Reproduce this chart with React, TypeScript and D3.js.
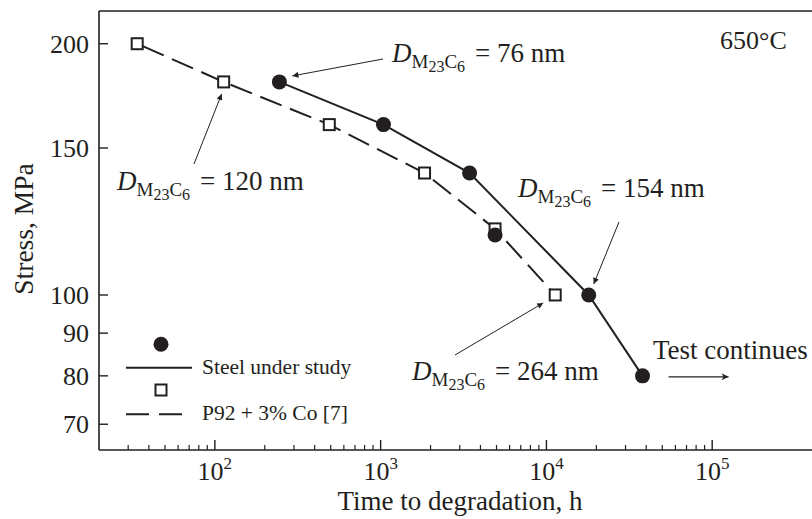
import React from "react";
import * as d3 from "d3";

const steelTime = [245, 1040, 3440, 4900, 18000, 38000];
const steelStress = [180, 160, 140, 118, 100, 80];
const steelLineTime = [245, 1040, 3440, 18000, 38000];
const steelLineStress = [180, 160, 140, 100, 80];
const p92Time = [34, 113, 490, 1840, 4900, 11300];
const p92Stress = [200, 180, 160, 140, 120, 100];
const yTicks = [200, 150, 100, 90, 80, 70];
const xMajor = [100, 1000, 10000, 100000];
const xMinorMult = [2, 3, 4, 5, 6, 7, 8, 9];

const W = 812;
const H = 519;
const INK = "#231f20";
const FONT = "'Liberation Serif', 'Times New Roman', serif";

function DLabel({ x, y, value }: { x: number; y: number; value: string }) {
  return (
    <text x={x} y={y} fontSize={27} fill={INK} fontFamily={FONT}>
      <tspan fontStyle="italic">D</tspan>
      <tspan fontSize={19} dy={6}>M</tspan>
      <tspan fontSize={16} dy={4}>23</tspan>
      <tspan fontSize={19} dy={-4}>C</tspan>
      <tspan fontSize={16} dy={4}>6</tspan>
      <tspan fontSize={27} dy={-10} dx={10}>= {value} nm</tspan>
    </text>
  );
}

export default function App() {
  const x = d3.scaleLog().domain([20, 4e5]).range([99, 812]);
  const y = d3.scaleLog().domain([65.2, 218.9]).range([450, 11]);
  const x0 = 99, x1 = 812, yB = 450, yT = 11;

  const line = d3
    .line<[number, number]>()
    .x((d) => x(d[0]))
    .y((d) => y(d[1]));

  const steelPath = line(steelLineTime.map((t, i) => [t, steelLineStress[i]]));
  const p92Path = line(p92Time.map((t, i) => [t, p92Stress[i]]));

  const minorTicks: number[] = [];
  [10, 100, 1000, 10000].forEach((dec) =>
    xMinorMult.forEach((m) => {
      const v = dec * m;
      if (v > 20 && v < 1e5) minorTicks.push(v);
    })
  );

  const sq = 11;
  const a1 = { px: x(steelTime[0]) + 13, py: y(steelStress[0]) - 6 };
  const a2 = { px: x(p92Time[1]) - 2, py: y(p92Stress[1]) + 12 };
  const a3 = { px: x(steelTime[4]) + 5, py: y(steelStress[4]) - 11 };
  const a4 = { px: x(p92Time[5]) - 12, py: y(p92Stress[5]) + 8 };
  const tc = { px: x(steelTime[5]), py: y(steelStress[5]) };

  return (
    <svg width={W} height={H} style={{ position: "absolute", left: 0, top: 0, background: "#fff" }}>
      <defs>
        <marker id="ah" viewBox="0 0 10 10" refX="10" refY="5" markerWidth="9" markerHeight="6" markerUnits="userSpaceOnUse" orient="auto">
          <path d="M0,0 L10,5 L0,10 z" fill={INK} />
        </marker>
        <marker id="ah2" viewBox="0 0 10 10" refX="10" refY="5" markerWidth="12" markerHeight="7" markerUnits="userSpaceOnUse" orient="auto">
          <path d="M0,0 L10,5 L0,10 L3,5 z" fill={INK} />
        </marker>
      </defs>
      <rect x={0} y={0} width={W} height={H} fill="#fff" />
      <line x1={x0} x2={x1} y1={yT} y2={yT} stroke={INK} strokeWidth={1.6} />
      <line x1={x0} x2={x1} y1={yB} y2={yB} stroke={INK} strokeWidth={1.6} />
      <line x1={x0} x2={x0} y1={yT} y2={yB} stroke={INK} strokeWidth={1.6} />

      {yTicks.map((v) => (
        <g key={"y" + v}>
          <line x1={x0} x2={x0 + 9} y1={y(v)} y2={y(v)} stroke={INK} strokeWidth={1.4} />
          <text x={89} y={y(v)} dy="0.34em" textAnchor="end" fontSize={26} fill={INK} fontFamily={FONT}>
            {v}
          </text>
        </g>
      ))}

      {xMajor.map((v) => (
        <g key={"x" + v}>
          <line x1={x(v)} x2={x(v)} y1={yB} y2={yB - 10} stroke={INK} strokeWidth={1.4} />
          <text x={x(v)} y={480} textAnchor="middle" fontSize={26} fill={INK} fontFamily={FONT}>
            10<tspan fontSize={17} dy={-11}>{Math.round(Math.log10(v))}</tspan>
          </text>
        </g>
      ))}
      {minorTicks.map((v) => (
        <line key={"m" + v} x1={x(v)} x2={x(v)} y1={yB} y2={yB - 5} stroke={INK} strokeWidth={1.2} />
      ))}

      <text x={460} y={510} textAnchor="middle" fontSize={27} fill={INK} fontFamily={FONT}>
        Time to degradation, h
      </text>
      <text transform="translate(33,229) rotate(-90)" textAnchor="middle" fontSize={27.5} fill={INK} fontFamily={FONT}>
        Stress, MPa
      </text>

      <path d={p92Path || ""} fill="none" stroke={INK} strokeWidth={2} strokeDasharray="23,9" strokeDashoffset={-6} />
      <path d={steelPath || ""} fill="none" stroke={INK} strokeWidth={2} />

      {p92Time.map((t, i) => (
        <rect key={"s" + i} x={x(t) - sq / 2} y={y(p92Stress[i]) - sq / 2} width={sq} height={sq} fill="#fff" stroke={INK} strokeWidth={2} />
      ))}
      {steelTime.map((t, i) => (
        <circle key={"c" + i} cx={x(t)} cy={y(steelStress[i])} r={7.5} fill={INK} />
      ))}

      <DLabel x={392} y={62} value="76" />
      <line x1={383} y1={59} x2={a1.px} y2={a1.py} stroke={INK} strokeWidth={1} markerEnd="url(#ah)" />
      <DLabel x={117} y={190} value="120" />
      <line x1={194} y1={164} x2={a2.px} y2={a2.py} stroke={INK} strokeWidth={1} markerEnd="url(#ah)" />
      <DLabel x={518} y={197} value="154" />
      <line x1={619} y1={222} x2={a3.px} y2={a3.py} stroke={INK} strokeWidth={1} markerEnd="url(#ah)" />
      <DLabel x={412} y={380} value="264" />
      <line x1={455} y1={355} x2={a4.px} y2={a4.py} stroke={INK} strokeWidth={1} markerEnd="url(#ah)" />

      <text x={653} y={359} fontSize={27} fill={INK} fontFamily={FONT}>Test continues</text>
      <line x1={tc.px + 26} y1={tc.py + 1} x2={tc.px + 86} y2={tc.py + 1} stroke={INK} strokeWidth={1.3} markerEnd="url(#ah2)" />

      <text x={720} y={49} fontSize={26} fill={INK} fontFamily={FONT}>650°C</text>

      <circle cx={161} cy={344.3} r={7.5} fill={INK} />
      <line x1={126} x2={192} y1={367.7} y2={367.7} stroke={INK} strokeWidth={2} />
      <text x={202} y={373.5} fontSize={21.5} fill={INK} fontFamily={FONT}>Steel under study</text>
      <rect x={161 - sq / 2} y={390 - sq / 2} width={sq} height={sq} fill="#fff" stroke={INK} strokeWidth={2} />
      <line x1={126} x2={182} y1={414.3} y2={414.3} stroke={INK} strokeWidth={2} strokeDasharray="23,10" />
      <text x={202} y={420} fontSize={21.5} fill={INK} fontFamily={FONT}>P92 + 3% Co [7]</text>
    </svg>
  );
}
